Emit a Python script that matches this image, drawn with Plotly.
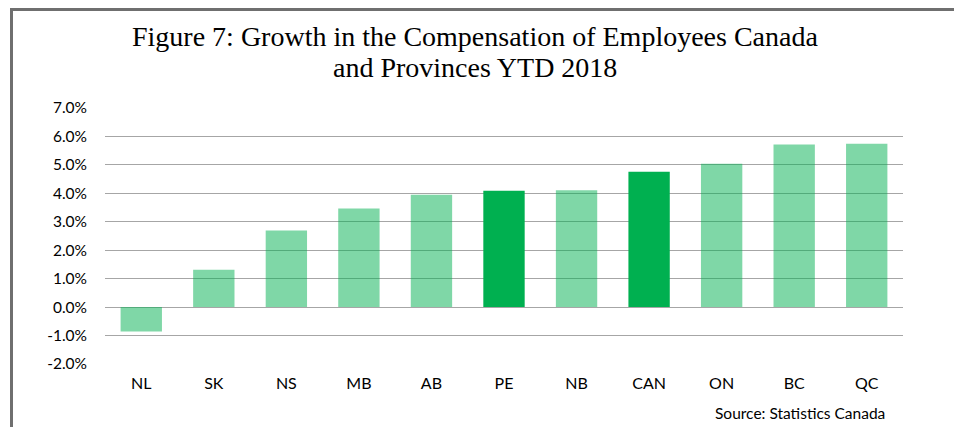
import plotly.graph_objects as go

# growth in compensation of employees, YTD 2018 (%)
regions = ["NL", "SK", "NS", "MB", "AB", "PE", "NB", "CAN", "ON", "BC", "QC"]
growth = [-0.86, 1.31, 2.69, 3.47, 3.95, 4.09, 4.11, 4.76, 5.04, 5.72, 5.74]
highlight = ["PE", "CAN"]

tick_vals = [-2, -1, 0, 1, 2, 3, 4, 5, 6, 7]
tick_text = ["%.1f%%" % v for v in tick_vals]

title_lines = ["Figure 7: Growth in the Compensation of Employees Canada",
               "and Provinces YTD 2018"]

dark = "rgb(0,176,80)"
light = "rgba(0,176,80,0.5)"
colors = [dark if r in highlight else light for r in regions]

# page body has an 8px margin, so the figure is 8px smaller than the window
W, H = 954, 419
L, R, T, B = 97, 59, 100, 63
pw, ph = W - L - R, H - T - B

def px(x):
    return (x - L) / pw

def py(y):
    return (H - B - y) / ph

fig = go.Figure()
fig.add_trace(go.Bar(x=regions, y=growth, marker=dict(color=colors, line=dict(width=0)),
                     showlegend=False, hoverinfo="x+y"))

# frame lines (top and left)
frame = "#6f6f6f"
fig.add_shape(type="line", xref="paper", yref="paper", x0=px(2), x1=px(W), y0=py(1.5), y1=py(1.5),
              line=dict(color=frame, width=3))
fig.add_shape(type="line", xref="paper", yref="paper", x0=px(3.5), x1=px(3.5), y0=py(1.5), y1=py(H),
              line=dict(color=frame, width=3))

# title, one annotation per line to control the spacing
for i, line in enumerate(title_lines):
    fig.add_annotation(text=line, xref="paper", yref="paper", x=px(467), y=py(28 + 31 * i),
                       xanchor="center", yanchor="middle", showarrow=False,
                       font=dict(family="Liberation Serif", size=28, color="#000000"))

fig.add_annotation(text="Source: Statistics Canada", xref="paper", yref="paper",
                   x=px(879), y=py(405), xanchor="right", yanchor="middle", showarrow=False,
                   font=dict(family="Lato", size=15.5, color="#000000"))

fig.update_layout(
    width=W, height=H,
    margin=dict(l=L, r=R, t=T, b=B),
    paper_bgcolor="white", plot_bgcolor="white",
    bargap=0.43,
    xaxis=dict(showline=False, ticks="", showgrid=False, ticklabelstandoff=8,
               tickfont=dict(family="Lato", size=16, color="#000000")),
    yaxis=dict(range=[-2, 7], tickvals=tick_vals, ticktext=tick_text, showgrid=True,
               gridcolor="#a6a6a6", gridwidth=1.3, zeroline=True, zerolinecolor="#a6a6a6",
               zerolinewidth=1.3, ticks="", ticklabelstandoff=17,
               tickfont=dict(family="Lato", size=15.5, color="#000000")),
)

fig.write_html("out.html")
